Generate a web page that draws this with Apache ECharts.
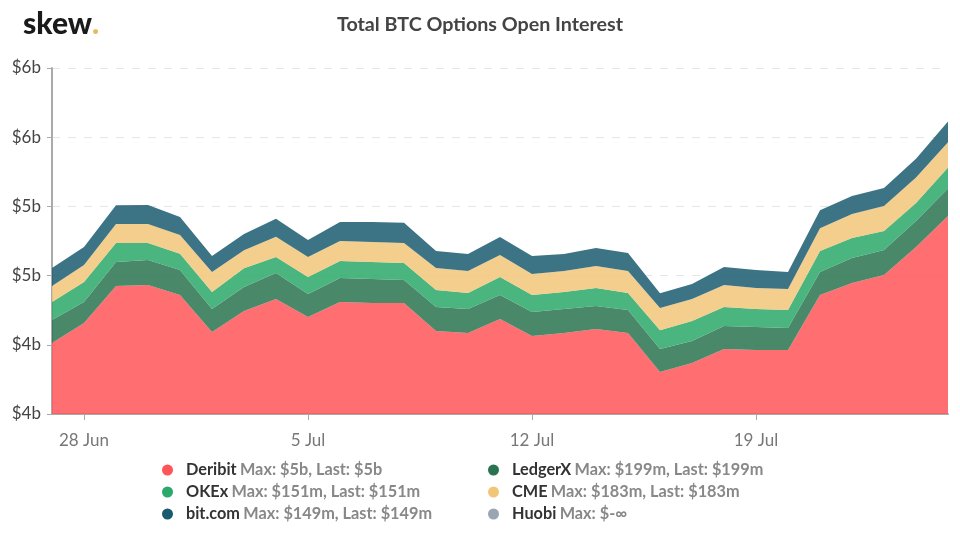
<!DOCTYPE html>
<html>
<head>
<meta charset="utf-8">
<style>html,body{margin:0;padding:0;background:#fff}#chart{width:960px;height:536px}</style>
<script src="https://cdn.jsdelivr.net/npm/echarts@6/dist/echarts.min.js"></script>
</head>
<body>
<div id="chart"></div>
<script>
var days = ['27 Jun','28 Jun','29 Jun','30 Jun','1 Jul','2 Jul','3 Jul','4 Jul','5 Jul','6 Jul','7 Jul','8 Jul','9 Jul','10 Jul','11 Jul','12 Jul','13 Jul','14 Jul','15 Jul','16 Jul','17 Jul','18 Jul','19 Jul','20 Jul','21 Jul','22 Jul','23 Jul','24 Jul','25 Jul'];
var tickDays = ['28 Jun','5 Jul','12 Jul','19 Jul'];

// open interest, $m
var deribit = [4013,4157,4425,4432,4360,4092,4244,4331,4201,4309,4302,4302,4100,4085,4186,4064,4085,4114,4085,3803,3868,3970,3962,3962,4360,4446,4504,4707,4931];
var ledgerx = [166,152,173,181,181,166,173,188,166,173,173,166,173,173,173,173,173,166,166,166,159,166,166,159,166,181,181,188,199];
var okex = [130,145,137,123,116,123,137,116,123,123,123,123,123,116,130,123,123,130,123,137,145,137,130,130,151,145,137,130,151];
var cme = [116,123,137,137,137,145,130,145,145,145,145,145,159,159,159,152,152,159,159,159,159,159,152,152,166,173,181,183,183];
var bitcom = [130,130,137,137,130,116,116,130,123,137,145,145,123,123,130,130,123,130,130,108,108,130,130,123,130,130,130,137,149];
var huobi = [];

var notes = {
    'Deribit': 'Max: $5b, Last: $5b',
    'LedgerX': 'Max: $199m, Last: $199m',
    'OKEx': 'Max: $151m, Last: $151m',
    'CME': 'Max: $183m, Last: $183m',
    'bit.com': 'Max: $149m, Last: $149m',
    'Huobi': 'Max: $-∞'
};

function area(name, data, color) {
    return {
        name: name,
        type: 'line',
        stack: 'oi',
        data: data,
        symbol: 'none',
        lineStyle: { width: 0 },
        areaStyle: { color: color, opacity: 0.85 },
        itemStyle: { color: color }
    };
}

function legend(left, names) {
    return {
        left: left,
        top: 457,
        orient: 'vertical',
        data: names,
        icon: 'circle',
        itemWidth: 11,
        itemHeight: 11,
        itemGap: 6,
        selectedMode: false,
        formatter: function (name) {
            return '{name|' + name + '} {note|' + notes[name] + '}';
        },
        textStyle: {
            rich: {
                name: { fontFamily: 'Lato', fontSize: 16.3, fontWeight: 'bold', color: '#333', padding: [0, 0, 0, 8], height: 18 },
                note: { fontFamily: 'Lato', fontSize: 16.3, fontWeight: 'bold', color: '#888', height: 18 }
            }
        }
    };
}

var chart = echarts.init(document.getElementById('chart'));
chart.setOption({
    animation: false,
    title: {
        text: 'Total BTC Options Open Interest',
        left: 475,
        textAlign: 'center',
        top: 10,
        textStyle: { fontFamily: 'Lato', fontSize: 19.7, fontWeight: 'bold', color: '#444' }
    },
    graphic: [{
        type: 'text',
        left: 23,
        top: 9,
        style: {
            text: '{a|skew}{b|.}',
            rich: {
                a: { fontFamily: 'Lato', fontSize: 30, fontWeight: 900, fill: '#1a1a1a' },
                b: { fontFamily: 'Lato', fontSize: 30, fontWeight: 900, fill: '#e8b95a' }
            }
        }
    }],
    legend: [
        legend(157, ['Deribit', 'OKEx', 'bit.com']),
        legend(483, ['LedgerX', 'CME', 'Huobi'])
    ],
    grid: { left: 52, right: 12, top: 68, bottom: 122 },
    xAxis: {
        type: 'category',
        data: days,
        boundaryGap: false,
        axisLine: { lineStyle: { color: '#aaa', width: 2 } },
        axisTick: {
            length: 6,
            lineStyle: { color: '#aaa' },
            interval: function (i, v) { return tickDays.indexOf(v) >= 0; }
        },
        axisLabel: {
            margin: 18,
            fontFamily: 'Lato',
            fontSize: 17,
            color: '#777',
            interval: function (i, v) { return tickDays.indexOf(v) >= 0; }
        }
    },
    yAxis: {
        type: 'value',
        min: 3500,
        max: 6000,
        interval: 500,
        axisLine: { show: true, lineStyle: { color: '#aaa', width: 2 } },
        axisTick: { show: true, length: 5, lineStyle: { color: '#aaa' } },
        axisLabel: {
            margin: 11,
            fontFamily: 'Lato',
            fontSize: 17,
            color: '#444',
            formatter: function (v) { return '$' + Math.round(v / 1000) + 'b'; }
        },
        splitLine: { lineStyle: { color: '#e6e6e6', type: [8, 8] } }
    },
    series: [
        area('Deribit', deribit, '#ff5558'),
        area('LedgerX', ledgerx, '#2a7350'),
        area('OKEx', okex, '#2ca86a'),
        area('CME', cme, '#f2c679'),
        area('bit.com', bitcom, '#1a5a70'),
        area('Huobi', huobi, '#9aa5b1')
    ]
});
</script>
</body>
</html>
